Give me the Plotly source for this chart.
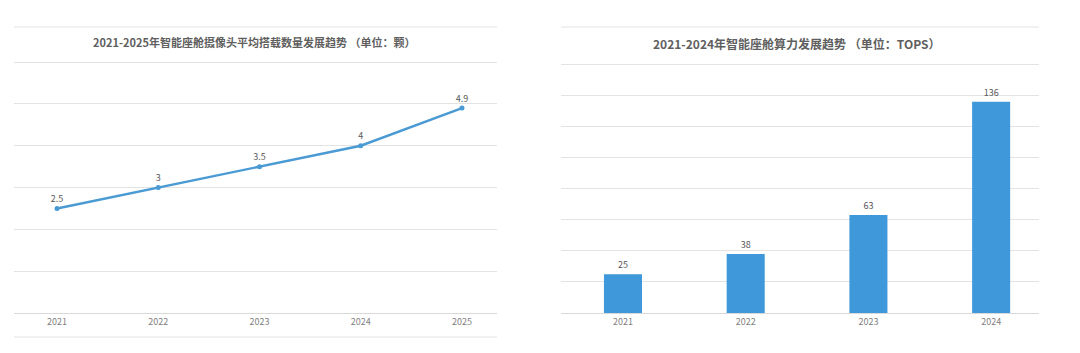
import plotly.graph_objects as go

# Data
cam_years = [2021, 2022, 2023, 2024, 2025]
cam_values = [2.5, 3, 3.5, 4, 4.9]
cam_title = "2021-2025年智能座舱摄像头平均搭载数量发展趋势 （单位：颗）"

tops_years = [2021, 2022, 2023, 2024]
tops_values = [25, 38, 63, 136]
tops_title = "2021-2024年智能座舱算力发展趋势 （单位：TOPS）"

W, H = 1080, 353
def px(x):
    return x / W
def py(y):
    return (H - y) / H

LINE_C = "#4a9ad4"
BAR_C = "#3f98d9"
GRID_C = "#e3e3e3"
TXT_C = "#595959"
FONT = "Noto Sans CJK SC"

fig = go.Figure()

fig.add_trace(go.Scatter(
    x=cam_years, y=cam_values, mode="lines+markers+text",
    text=[str(v) for v in cam_values], textposition="top center",
    textfont=dict(size=9, color=TXT_C, family=FONT),
    line=dict(color=LINE_C, width=2.4), marker=dict(size=5, color=LINE_C),
    xaxis="x", yaxis="y", showlegend=False, cliponaxis=False,
))

fig.add_trace(go.Bar(
    x=tops_years, y=tops_values, width=0.31,
    text=[str(v) for v in tops_values], textposition="outside",
    textfont=dict(size=9, color=TXT_C, family=FONT),
    marker=dict(color=BAR_C, line=dict(width=0)),
    xaxis="x2", yaxis="y2", showlegend=False, cliponaxis=False,
))

axis_common_x = dict(
    tickmode="array", showgrid=False, zeroline=False,
    showline=True, linecolor="#d9d9d9", linewidth=1,
    ticks="", tickfont=dict(size=9, color="#7f7f7f", family=FONT),
    fixedrange=True,
)

fig.update_layout(
    width=W, height=H,
    margin=dict(l=0, r=0, t=0, b=0),
    paper_bgcolor="white", plot_bgcolor="white",
    font=dict(family=FONT, color=TXT_C),
    xaxis=dict(domain=[px(14), px(497)], range=[2020.575, 2025.346],
               tickvals=cam_years, ticktext=[str(y) for y in cam_years],
               anchor="y", **axis_common_x),
    yaxis=dict(domain=[py(313), py(60)], range=[0, 6.05], dtick=1,
               showgrid=True, gridcolor=GRID_C, gridwidth=1,
               zeroline=False, showticklabels=False, anchor="x"),
    xaxis2=dict(domain=[px(561), px(1039)], range=[2020.495, 2024.39],
                tickvals=tops_years, ticktext=[str(y) for y in tops_years],
                anchor="y2", **axis_common_x),
    yaxis2=dict(domain=[py(313), py(62)], range=[0, 161.5], dtick=20,
                showgrid=True, gridcolor=GRID_C, gridwidth=1,
                zeroline=False, showticklabels=False, anchor="x2"),
    annotations=[
        dict(text="<b>" + cam_title + "</b>", x=px(254), y=py(42), xref="paper", yref="paper",
             showarrow=False, font=dict(size=11, color="#5f5f5f", family=FONT),
             xanchor="center", yanchor="middle"),
        dict(text="<b>" + tops_title + "</b>", x=px(797), y=py(43), xref="paper", yref="paper",
             showarrow=False, font=dict(size=12, color="#5f5f5f", family=FONT),
             xanchor="center", yanchor="middle"),
    ],
    shapes=[
        dict(type="line", xref="paper", yref="paper", x0=px(14), x1=px(497),
             y0=py(27), y1=py(27), line=dict(color=GRID_C, width=1)),
        dict(type="line", xref="paper", yref="paper", x0=px(561), x1=px(1039),
             y0=py(27), y1=py(27), line=dict(color=GRID_C, width=1)),
        dict(type="line", xref="paper", yref="paper", x0=px(14), x1=px(497),
             y0=py(337), y1=py(337), line=dict(color=GRID_C, width=1)),
    ],
)

fig.write_html("out.html")
